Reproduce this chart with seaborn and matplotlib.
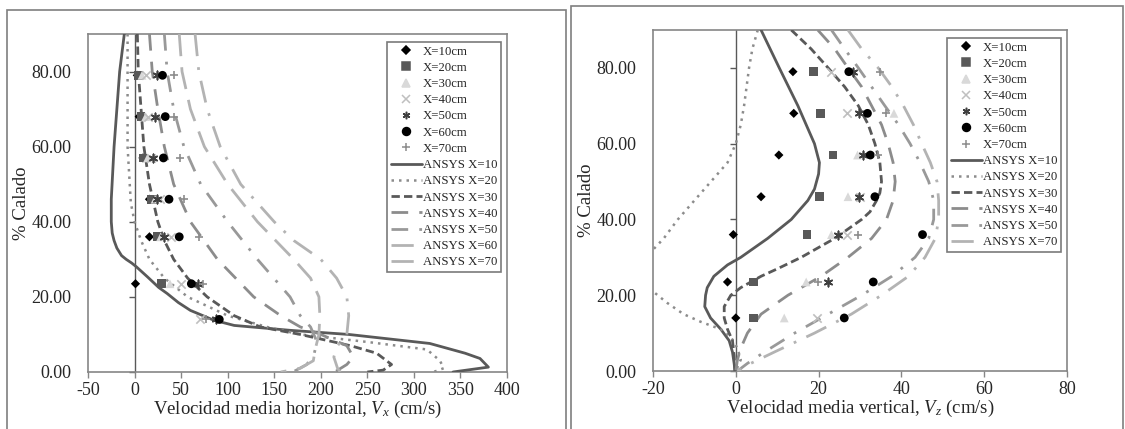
import matplotlib
matplotlib.use('Agg')
import matplotlib.pyplot as plt
from matplotlib.patches import Rectangle
from matplotlib.lines import Line2D
import seaborn as sns
import numpy as np
import pandas as pd

sns.set_theme(style="white")
plt.rcParams['font.family'] = ['Liberation Serif', 'DejaVu Serif']
plt.rcParams['mathtext.fontset'] = 'custom'
plt.rcParams['mathtext.rm'] = 'Liberation Serif'
plt.rcParams['mathtext.it'] = 'Liberation Serif:italic'

# ---- measured points (% calado levels) ----
levels = [79, 68, 57, 46, 36, 23.5, 14]
meas_labels = ['X=10cm', 'X=20cm', 'X=30cm', 'X=40cm', 'X=50cm', 'X=60cm', 'X=70cm']

# horizontal velocity Vx (cm/s)
vx_meas = {
    'X=10cm': [3, 5, 9, 16, 16, 1, np.nan],
    'X=20cm': [4, 7, 10, 18, 24, 29, np.nan],
    'X=30cm': [8, 12, 14, 22, 28, 38, np.nan],
    'X=40cm': [12, 14, 18, 27, 39, 50, 70],
    'X=50cm': [24, 22, 20, 24, 32, 68, 88],
    'X=60cm': [30, 33, 31, 37, 48, 61, 91],
    'X=70cm': [42, 42, 49, 53, 69, 74, 77],
}

# vertical velocity Vz (cm/s)
vz_meas = {
    'X=10cm': [13.8, 14.0, 10.4, 6.1, -0.6, -2.0, 0.0],
    'X=20cm': [18.8, 20.5, 23.5, 20.2, 17.2, 4.3, 4.3],
    'X=30cm': [np.nan, 38.2, 29.4, 27.1, 23.1, 17.0, 11.7],
    'X=40cm': [22.9, 26.9, np.nan, 30.1, 26.9, np.nan, 19.7],
    'X=50cm': [28.3, 29.8, 30.8, 29.8, 24.7, 22.3, np.nan],
    'X=60cm': [27.3, 31.8, 32.5, 33.6, 45.1, 33.2, 26.2],
    'X=70cm': [34.8, 36.4, 34.4, np.nan, 29.4, 19.8, np.nan],
}

# ---- ANSYS profiles, horizontal ----
ansys_vx = {
    'ANSYS X=10': ([90, 80, 60, 46, 40, 37, 35, 33, 31, 30, 29, 28, 25.3, 22.5, 20.9, 18.5, 16.4, 13.8, 12.4, 11.1, 10, 7.6, 5, 3.6, 1.3, 0],
                   [-11, -16, -22, -25, -25, -24, -22, -19, -14, -9, -3, 2, 14, 26, 35, 47, 60, 85, 107, 167, 230, 317, 355, 371, 380, 342]),
    'ANSYS X=20': ([90, 60, 45, 40, 35, 30, 25, 20, 15, 12, 10, 8, 6, 3, 1, 0],
                   [-7.5, -7.5, -4, 0, 7, 16, 32, 57, 100, 142, 178, 250, 314, 328, 332, 321]),
    'ANSYS X=30': ([90, 80, 70, 60, 50, 40, 35, 30, 25, 20, 15, 12, 10, 7, 5, 2, 0.5, 0],
                   [3, 4, 7, 10, 16, 25, 32, 42, 57, 78, 107, 135, 178, 232, 260, 276, 267, 250]),
    'ANSYS X=40': ([90, 80, 70, 60, 50, 40, 30, 20, 15, 12, 10, 7, 4, 2, 0],
                   [16, 19, 25, 32, 42, 60, 89, 128, 157, 178, 200, 228, 235, 228, 215]),
    'ANSYS X=50': ([90, 80, 70, 60, 50, 40, 30, 20, 15, 12, 8, 5, 2, 0],
                   [32, 35, 42, 53, 71, 100, 132, 167, 178, 189, 196, 193, 185, 170]),
    'ANSYS X=60': ([90, 80, 70, 60, 50, 40, 30, 25, 20, 15, 10, 6, 3, 1, 0],
                   [48, 51, 60, 75, 100, 132, 171, 189, 198, 199, 198, 194, 192, 178, 157]),
    'ANSYS X=70': ([90, 80, 70, 60, 50, 40, 35, 30, 25, 20, 15, 10, 7, 4, 1, 0],
                   [65, 69, 78, 92, 114, 150, 171, 200, 217, 228, 230, 228, 218, 214, 218, 221]),
}

# ---- ANSYS profiles, vertical ----
ansys_vz = {
    'ANSYS X=10': ([90, 80, 70, 60, 55, 52, 48, 45, 40, 35, 30, 28, 25, 22, 20, 17, 14, 11, 8, 5, 2, 0],
                   [6.1, 10.5, 15, 19, 20.2, 20, 19, 17.4, 13.4, 7.7, 1.2, -2, -5.3, -6.9, -7.3, -7.5, -6.1, -3.6, -1.6, -0.8, -0.4, -0.2]),
    'ANSYS X=20': ([90, 85, 80, 70, 65, 60, 55, 50, 45, 40, 35, 32, 27, 21, 18, 15, 13, 11, 9, 6, 3, 0],
                   [5.3, 4, 3.2, 2, 1.2, 0, -2, -6, -10, -14, -17.4, -20, -24, -20, -16.6, -12.6, -8.5, -3.6, -1.2, 0.4, 1.2, 0]),
    'ANSYS X=30': ([90, 85, 80, 75, 70, 65, 60, 55, 50, 47, 45, 42, 40, 35, 30, 27, 25, 22, 20, 17, 14, 11, 8, 4, 0],
                   [13.4, 18.2, 22.3, 26.3, 29.6, 32, 33.6, 34.8, 35.2, 34.8, 34, 32.4, 30.4, 23.9, 15.8, 10.1, 6.1, 1.2, -1.2, -2.8, -2.8, -2, -0.8, -0.4, -0.2]),
    'ANSYS X=40': ([90, 85, 80, 75, 70, 65, 60, 55, 50, 45, 40, 35, 30, 25, 20, 15, 10, 6, 3, 0],
                   [19.8, 23.9, 27.1, 30.4, 32.8, 35.2, 36.8, 38, 38.5, 38, 36.4, 32.8, 27.1, 20.6, 12.6, 6.1, 2.8, 1.2, 0.4, 0]),
    'ANSYS X=50': ([90, 85, 80, 75, 70, 65, 60, 55, 50, 45, 40, 35, 30, 25, 20, 15, 10, 5, 2, 0],
                   [23.1, 26.3, 29.6, 32.8, 36, 39.3, 42.1, 44.5, 46.6, 47.8, 47.8, 46.6, 43.3, 37.7, 30.4, 22.3, 14.2, 6.9, 2.8, 0.4]),
    'ANSYS X=70': ([90, 85, 80, 75, 70, 65, 60, 55, 50, 45, 40, 35, 30, 25, 20, 15, 10, 5, 2, 0],
                   [27.1, 30.4, 34.4, 37.7, 40.5, 42.9, 44.9, 47, 48.6, 49, 49, 48.2, 45.7, 41.7, 35.2, 27.9, 19, 9.3, 3.6, 0.4]),
}

marker_style = {
    'X=10cm': dict(marker='D', color='black', s=22),
    'X=20cm': dict(marker='s', color='#595959', s=40),
    'X=30cm': dict(marker='^', color='#d9d9d9', s=40),
    'X=40cm': dict(marker='x', color='#bfbfbf', s=36, linewidths=1.2),
    'X=50cm': dict(marker=(6, 2, 0), color='#404040', s=36, linewidths=1.2),
    'X=60cm': dict(marker='o', color='black', s=40),
    'X=70cm': dict(marker='+', color='#8c8c8c', s=40, linewidths=1.2),
}
line_style = {
    'ANSYS X=10': dict(color='#595959', ls='-', lw=2),
    'ANSYS X=20': dict(color='#8c8c8c', ls=(0, (1, 2)), lw=1.8),
    'ANSYS X=30': dict(color='#595959', ls=(0, (3, 1.5)), lw=2),
    'ANSYS X=40': dict(color='#8c8c8c', ls=(0, (6, 4)), lw=2),
    'ANSYS X=50': dict(color='#999999', ls=(0, (6, 4, 1, 4)), lw=2),
    'ANSYS X=60': dict(color='#b3b3b3', ls=(0, (8, 4)), lw=2),
    'ANSYS X=70': dict(color='#b3b3b3', ls=(0, (8, 4, 1, 4)), lw=2),
}


def draw_panel(ax, meas, ansys, xlim, xticks, xlabel):
    handles = []
    for lab in meas_labels:
        st = dict(marker_style[lab])
        df = pd.DataFrame({'v': meas[lab], 'y': levels}).dropna()
        sns.scatterplot(data=df, x='v', y='y', ax=ax, marker=st.pop('marker'), color=st.pop('color'),
                        edgecolor='none' if lab in ('X=10cm', 'X=20cm', 'X=30cm', 'X=60cm') else 'face',
                        zorder=4, **st)
        ms = marker_style[lab]
        handles.append(Line2D([], [], ls='none', marker=ms['marker'], color=ms['color'],
                              markersize=np.sqrt(ms['s']) * 0.9, markeredgewidth=1.1, label=lab))
    for lab, (yy, vv) in ansys.items():
        st = line_style[lab]
        df = pd.DataFrame({'v': vv, 'y': yy})
        sns.lineplot(data=df, x='v', y='y', sort=False, estimator=None, ax=ax,
                     color=st['color'], linestyle=st['ls'], linewidth=st['lw'], zorder=3)
        handles.append(Line2D([], [], color=st['color'], ls=st['ls'], lw=st['lw'], label=lab))

    ax.axvline(0, color='#595959', lw=1, zorder=2)
    yt = [0, 20, 40, 60, 80]
    ax.plot(np.zeros(len(yt)), yt, ls='none', marker=0, ms=4, mew=1, color='#595959', clip_on=False)
    ax.set_xlim(*xlim)
    ax.set_ylim(0, 90)
    ax.set_xticks(xticks)
    ax.set_xticklabels([str(t) for t in xticks])
    ax.set_yticks(yt)
    ax.set_yticklabels([f'{t:.2f}' for t in yt])
    ax.tick_params(axis='y', length=0, labelsize=13, pad=12)
    ax.tick_params(axis='x', length=4, width=1, color='#868686', direction='out', bottom=True,
                   labelsize=13, pad=3)
    for sp in ax.spines.values():
        sp.set_color('#868686')
        sp.set_linewidth(1.2)
    ax.set_xlabel(xlabel, fontsize=13.5, labelpad=0)
    ax.set_ylabel('% Calado', fontsize=13.5, labelpad=1)
    leg = ax.legend(handles=handles, loc='upper right', bbox_to_anchor=(0.986, 0.977),
                    fontsize=9.2, frameon=True, fancybox=False, edgecolor='#595959',
                    labelspacing=0.33, handlelength=2.4, handletextpad=0.1, borderpad=0.3,
                    borderaxespad=0)
    leg.get_frame().set_linewidth(1.2)


fig = plt.figure(figsize=(11.25, 4.29), dpi=100)
W, H = 1125, 429
ax1 = fig.add_axes([88 / W, 1 - 372 / H, (507 - 88) / W, (372 - 34) / H])
ax2 = fig.add_axes([653 / W, 1 - 371 / H, (1067 - 653) / W, (371 - 30) / H])

draw_panel(ax1, vx_meas, ansys_vx, (-50, 400), list(range(-50, 401, 50)),
           r'Velocidad media horizontal, $V_x$ (cm/s)')
draw_panel(ax2, vz_meas, ansys_vz, (-20, 80), list(range(-20, 81, 20)),
           r'Velocidad media vertical, $V_z$ (cm/s)')

# panel frames
fig.add_artist(Rectangle((7 / W, -0.01), (566 - 7) / W, 1.01 - 10 / H, transform=fig.transFigure,
                         fill=False, ec='#7f7f7f', lw=1.2))
fig.add_artist(Rectangle((571 / W, -0.01), (1123 - 571) / W, 1.01 - 6 / H, transform=fig.transFigure,
                         fill=False, ec='#7f7f7f', lw=1.2))

fig.savefig('out.png', dpi=100)
